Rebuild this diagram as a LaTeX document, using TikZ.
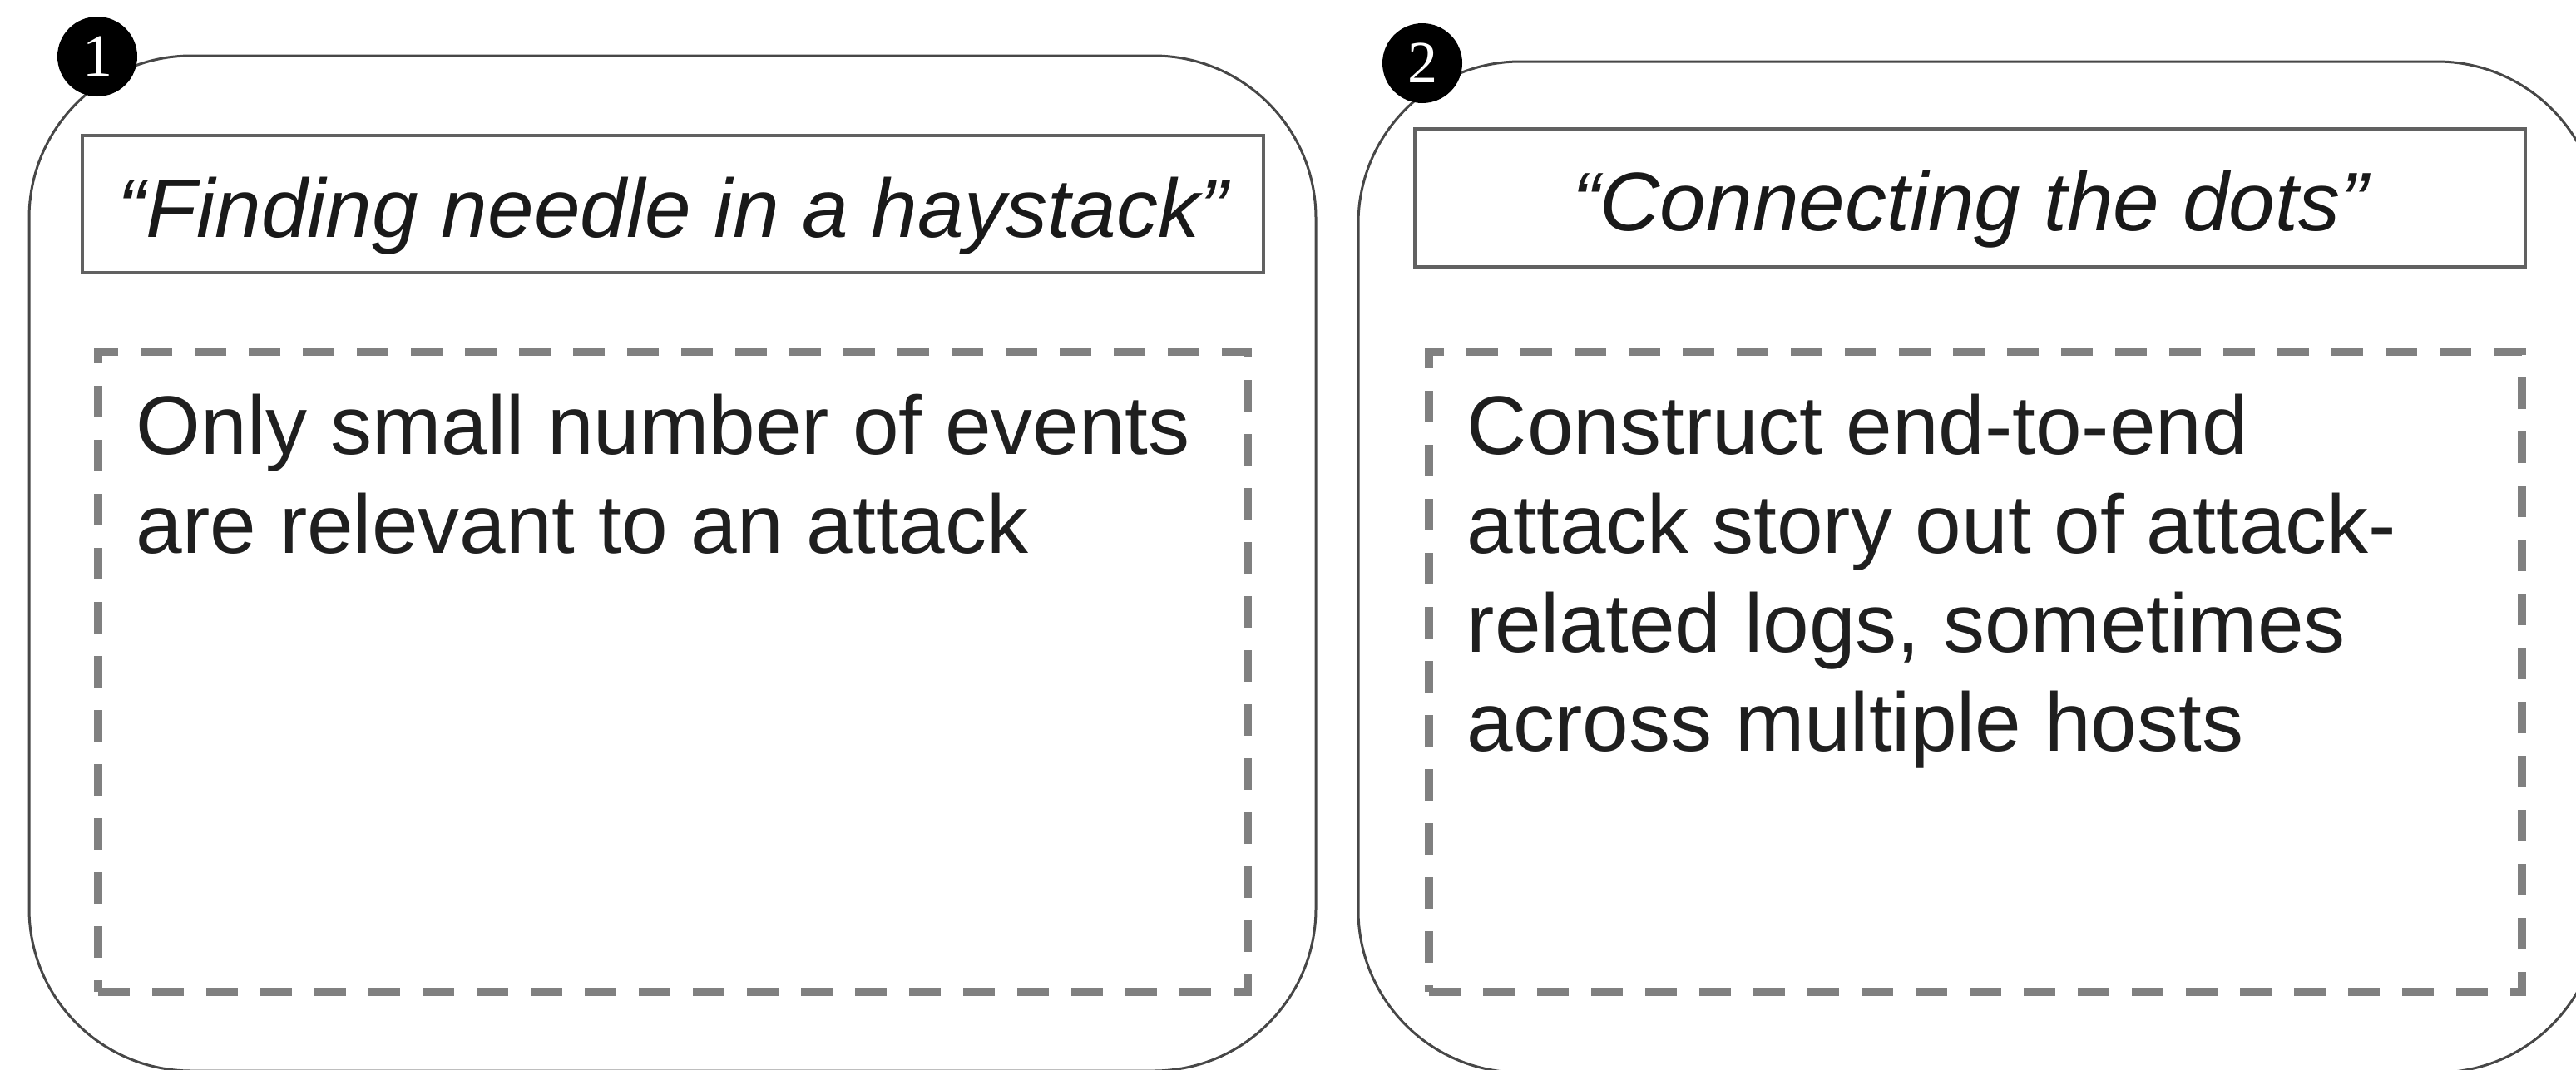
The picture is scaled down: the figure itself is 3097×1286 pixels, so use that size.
\documentclass[tikz,border=0pt]{standalone}
\usepackage{fontspec}
\setmainfont{Liberation Sans}
\newfontfamily\numfont{Liberation Serif}

\begin{document}
\begin{tikzpicture}[
  x=0.25pt, y=-0.25pt,
  outerbox/.style={draw=black!72, line width=0.75pt, rounded corners=48.75pt,
    inner sep=0pt},
  titlebox/.style={draw=black!62, line width=1pt, inner sep=0pt,
    text=black!90, text height=22pt, text depth=2.25pt,
    font=\fontsize{25pt}{30pt}\selectfont\itshape},
  dashbox/.style={draw=black!50, line width=2.5pt,
    dash pattern=on 9.5pt off 6.75pt, inner sep=0pt},
  % multi-line text: the base anchor sits on the last line
  bodytext/.style={align=left, inner sep=0pt, anchor=base west,
    text=black!88, font=\fontsize{25pt}{29.75pt}\selectfont},
  numdot/.style={circle, fill=black, text=white, minimum size=24pt,
    inner sep=0pt, font=\numfont\fontsize{18pt}{18pt}\selectfont},
]
\useasboundingbox (0,0) rectangle (3097,1286);
\clip (0,0) rectangle (3097,1286);

% first panel
\node[outerbox, minimum width=386.75pt, minimum height=305.25pt] (panelA) at (808.5,677.5) {};
\node[titlebox, minimum width=355pt, minimum height=41.25pt] (titleA) at (809,245.5)
  {“Finding needle in a haystack”};
\node[dashbox, minimum width=345.5pt, minimum height=192.5pt] (detailA) at (809,808) {};
\node[bodytext] (textA) at (163,665)
  {Only small number of events\\are relevant to an attack};
\node[numdot] (numA) at (117,68) {1};

% second panel
\node[outerbox, minimum width=373pt, minimum height=304pt] (panelB) at (2379,682) {};
\node[titlebox, minimum width=333.75pt, minimum height=41.5pt] (titleB) at (2368.5,238)
  {“Connecting the dots”};
\node[dashbox, minimum width=328.5pt, minimum height=192.5pt] (detailB) at (2375,808) {};
\node[bodytext] (textB) at (1763,903)
  {Construct end-to-end\\attack story out of attack-\\related logs, sometimes\\across multiple hosts};
\node[numdot] (numB) at (1710,76) {2};
\end{tikzpicture}
\end{document}
